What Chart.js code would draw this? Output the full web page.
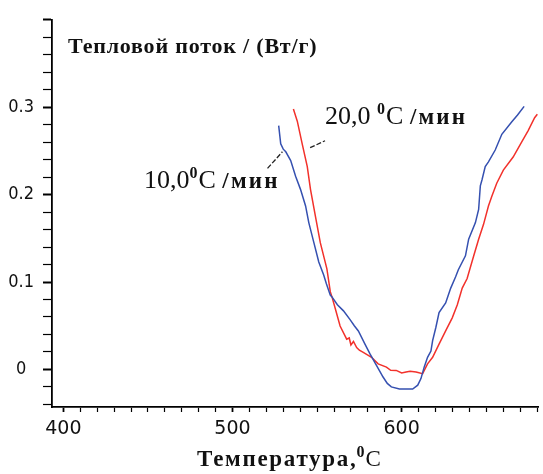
<!DOCTYPE html>
<html>
<head>
<meta charset="utf-8">
<script src="https://cdn.jsdelivr.net/npm/chart.js@4/dist/chart.umd.min.js"></script>
<style>
  html, body { margin: 0; padding: 0; background: #fff; }
  #wrap { width: 543px; height: 474px; }
</style>
</head>
<body>
<div id="wrap"><canvas id="dsc"></canvas></div>
<script>
// 10 C/min (blue)
const temps10 = [527.3, 528.5, 530.0, 531.5, 534.4, 537.3, 540.2, 543.2, 545.1, 548.1, 551.0, 553.9, 555.5, 557.8, 558.8,
  562.0, 565.6, 569.5, 572.0, 574.4, 578.3, 581.2, 585.1, 589.0, 591.5, 593.9, 598.7, 606.5, 609.5, 611.4, 613.3,
  615.3, 617.3, 618.3, 620.2, 622.1, 626.0, 629.0, 631.9, 633.5, 637.7, 639.6, 643.6, 645.5, 646.5, 647.5, 649.4,
  651.3, 655.3, 659.2, 665.0, 668.5, 672.4];
const heat10 = [0.279, 0.258, 0.252, 0.249, 0.239, 0.221, 0.206, 0.187, 0.168, 0.145, 0.123, 0.108, 0.098, 0.085, 0.083,
  0.074, 0.067, 0.057, 0.050, 0.044, 0.029, 0.018, 0.0045, -0.0087, -0.016, -0.020, -0.0225, -0.0225, -0.018, -0.0105, 0.0026,
  0.0139, 0.021, 0.033, 0.048, 0.065, 0.076, 0.093, 0.106, 0.114, 0.130, 0.149, 0.168, 0.183, 0.210, 0.217, 0.232,
  0.2375, 0.251, 0.269, 0.283, 0.291, 0.301];

// 20 C/min (red)
const temps20 = [536.0, 538.3, 541.2, 544.2, 546.1, 549.0, 551.9, 555.8, 557.8, 558.8, 560.7, 563.6, 567.5, 569.0, 570.0,
  571.5, 573.4, 575.0, 577.3, 579.5, 582.2, 586.1, 591.0, 593.5, 596.8, 600.0, 602.6, 605.0, 608.5, 612.4, 615.3,
  618.3, 622.1, 626.0, 629.9, 632.9, 635.8, 638.7, 642.6, 645.5, 648.4, 651.3, 653.3, 656.2, 660.1, 665.9, 670.9,
  674.7, 678.6, 680.2];
const heat20 = [0.298, 0.284, 0.258, 0.232, 0.206, 0.1755, 0.145, 0.115, 0.089, 0.083, 0.070, 0.0496, 0.0346, 0.036, 0.028,
  0.032, 0.025, 0.022, 0.0195, 0.017, 0.0139, 0.0064, 0.0026, -0.001, -0.0011, -0.004, -0.003, -0.002, -0.003, -0.0048, 0.0064,
  0.0139, 0.029, 0.044, 0.059, 0.074, 0.093, 0.104, 0.130, 0.149, 0.166, 0.187, 0.198, 0.213, 0.228, 0.243, 0.260,
  0.273, 0.288, 0.292];

const xTickLabels = [400, 500, 600];
const yTickLabels = [0, 0.1, 0.2, 0.3];

function toPoints(xs, ys) {
    return xs.map((x, i) => ({ x: x, y: ys[i] }));
}

// labels and leader lines, placed in data units
const notes = [
    { num: '20,0 ', t: 554.7, v: 0.2807, lead: [545.9, 0.2537, 554.7, 0.2616] },
    { num: '10,0', t: 447.7, v: 0.2074, lead: [520.7, 0.230, 529.5, 0.249] }
];

const textPlugin = {
    id: 'texts',
    afterDraw(chart) {
        const ctx = chart.ctx;
        const xs = chart.scales.x;
        const ys = chart.scales.y;
        const area = chart.chartArea;
        ctx.save();
        ctx.fillStyle = '#111';
        ctx.textBaseline = 'alphabetic';
        ctx.textAlign = 'left';

        // y title inside the plot
        ctx.font = 'bold 22px "Liberation Serif"';
        ctx.letterSpacing = '0.8px';
        ctx.fillText('Тепловой поток / (Вт/г)', area.left + 16, area.top + 33);

        // x title
        ctx.font = 'bold 23px "Liberation Serif"';
        ctx.letterSpacing = '1.7px';
        const main = 'Температура,';
        const w1 = ctx.measureText(main).width;
        let x0 = 197;
        const base = 466;
        ctx.fillText(main, x0, base);
        ctx.letterSpacing = '0px';
        ctx.font = 'bold 16px "Liberation Serif"';
        ctx.fillText('0', x0 + w1 - 1, base - 9);
        ctx.font = '23px "Liberation Serif"';
        ctx.fillText('C', x0 + w1 + 8, base);

        // curve labels
        notes.forEach(n => {
            const px = xs.getPixelForValue(n.t);
            const py = ys.getPixelForValue(n.v);
            ctx.font = '26px "Liberation Serif"';
            ctx.fillText(n.num, px, py);
            let w = ctx.measureText(n.num).width;
            ctx.font = 'bold 16px "Liberation Serif"';
            ctx.fillText('0', px + w, py - 10);
            w += ctx.measureText('0').width + 1;
            ctx.font = '26px "Liberation Serif"';
            ctx.fillText('C', px + w, py);
            w += ctx.measureText('C ').width;
            ctx.font = 'bold 23px "Liberation Serif"';
            ctx.letterSpacing = '2.2px';
            ctx.fillText('/мин', px + w, py);
            ctx.letterSpacing = '0px';

            ctx.strokeStyle = '#222';
            ctx.lineWidth = 1.3;
            ctx.setLineDash([5, 2]);
            ctx.beginPath();
            ctx.moveTo(xs.getPixelForValue(n.lead[0]), ys.getPixelForValue(n.lead[1]));
            ctx.lineTo(xs.getPixelForValue(n.lead[2]), ys.getPixelForValue(n.lead[3]));
            ctx.stroke();
            ctx.setLineDash([]);
        });
        ctx.restore();
    }
};

new Chart(document.getElementById('dsc'), {
    type: 'scatter',
    data: {
        datasets: [{
            label: '10,0 C/мин',
            data: toPoints(temps10, heat10),
            showLine: true,
            borderColor: '#3550b0',
            borderWidth: 1.5,
            pointRadius: 0,
            tension: 0
        }, {
            label: '20,0 C/мин',
            data: toPoints(temps20, heat20),
            showLine: true,
            borderColor: '#f2312b',
            borderWidth: 1.5,
            pointRadius: 0,
            tension: 0
        }]
    },
    options: {
        responsive: true,
        maintainAspectRatio: false,
        animation: false,
        layout: { padding: { top: 15, right: 0, left: 0, bottom: 0 } },
        plugins: {
            legend: { display: false },
            tooltip: { enabled: false }
        },
        scales: {
            x: {
                type: 'linear',
                min: 393.3,
                max: 680.7,
                afterFit: s => { s.height = 67; },
                border: { display: true, color: '#000', width: 1.8 },
                grid: {
                    drawOnChartArea: false,
                    drawTicks: true,
                    tickLength: 5,
                    tickColor: '#000',
                    tickWidth: ctx => (ctx.tick && ctx.tick.value % 100 === 0 ? 1.8 : 1.2)
                },
                ticks: {
                    stepSize: 10,
                    includeBounds: false,
                    autoSkip: false,
                    maxRotation: 0,
                    padding: 6,
                    color: '#111',
                    font: { family: '"DejaVu Sans"', size: 19 },
                    callback: v => (xTickLabels.includes(Math.round(v)) && Math.abs(v - Math.round(v)) < 1e-6 ? String(Math.round(v)) : '')
                }
            },
            y: {
                min: -0.043,
                max: 0.4,
                afterFit: s => { s.width = 52; },
                border: { display: true, color: '#000', width: 1.8 },
                grid: {
                    drawOnChartArea: false,
                    drawTicks: true,
                    tickLength: 9,
                    tickColor: '#000',
                    tickWidth: ctx => {
                        const v = ctx.tick ? ctx.tick.value : 0;
                        return Math.abs(v * 10 - Math.round(v * 10)) < 1e-6 ? 2 : 1.2;
                    }
                },
                ticks: {
                    stepSize: 0.02,
                    includeBounds: false,
                    autoSkip: false,
                    crossAlign: 'center',
                    padding: 9,
                    color: '#111',
                    font: { family: '"Liberation Sans Narrow", "DejaVu Sans Condensed", sans-serif', size: 18 },
                    callback: v => {
                        const hit = yTickLabels.find(t => Math.abs(t - v) < 1e-6);
                        return hit === undefined ? '' : String(hit);
                    }
                }
            }
        }
    },
    plugins: [textPlugin]
});
</script>
</body>
</html>
